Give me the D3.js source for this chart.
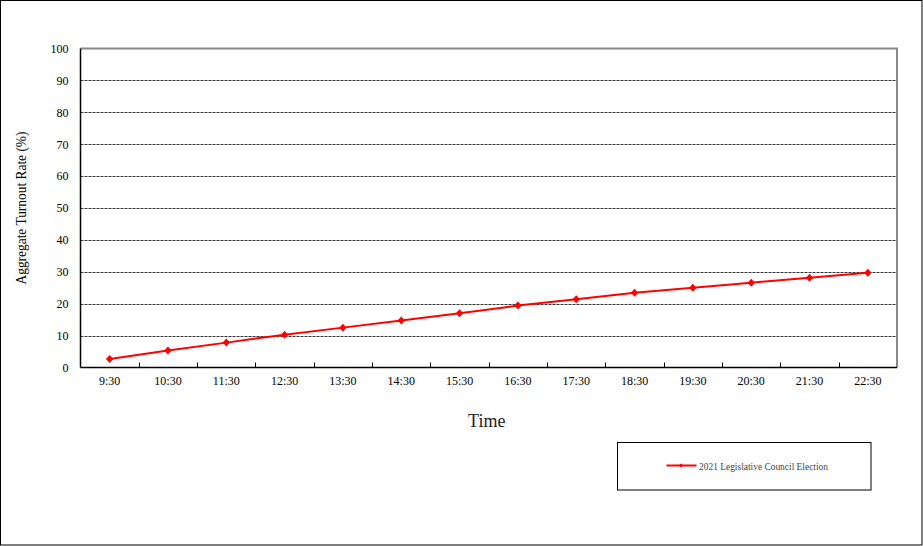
<!DOCTYPE html>
<html><head><meta charset="utf-8">
<script src="https://cdn.jsdelivr.net/npm/d3@7"></script>
<style>html,body{margin:0;padding:0;background:#fff;}svg{display:block;}</style>
</head><body>
<script>
const categories = ["9:30","10:30","11:30","12:30","13:30","14:30","15:30","16:30","17:30","18:30","19:30","20:30","21:30","22:30"];
const values = [2.7, 5.3, 7.8, 10.3, 12.5, 14.7, 17.0, 19.4, 21.4, 23.4, 25.0, 26.6, 28.1, 29.7];
const yTicks = [0,10,20,30,40,50,60,70,80,90,100];
const seriesName = "2021 Legislative Council Election";
const xTitle = "Time";
const yTitle = "Aggregate Turnout Rate (%)";

const W = 923, H = 546;
const font = "'Liberation Serif','Times New Roman',serif";
const svg = d3.select("body").append("svg").attr("width", W).attr("height", H);
svg.append("rect").attr("x",0.5).attr("y",0.5).attr("width",W-1.5).attr("height",H-1.5)
  .attr("fill","#fff").attr("stroke","#000").attr("stroke-width",1);

const L = 80.5, R = 897, T = 48.5, B = 367.5;
const x = d3.scaleBand().domain(categories).range([L, R]);
const y = d3.scaleLinear().domain([0,100]).range([B, T]);

// gridlines
svg.append("g").selectAll("line").data(yTicks.filter(d=>d>0 && d<100)).join("line")
  .attr("x1", L).attr("x2", R).attr("y1", d=>Math.round(y(d))+0.5).attr("y2", d=>Math.round(y(d))+0.5)
  .attr("stroke","#333").attr("stroke-width",1).attr("stroke-dasharray","3,1");

// plot frame top/right gray
svg.append("path").attr("d",`M${L},${T}H${R}V${B}`).attr("fill","none").attr("stroke","#888").attr("stroke-width",2);

// x axis
const xAxis = svg.append("g").attr("transform",`translate(0,${B})`)
  .call(d3.axisBottom(x).tickSize(0).tickPadding(9));
xAxis.select(".domain").remove();
xAxis.selectAll("text").attr("font-family",font).attr("font-size",12).attr("fill","#000");
// x tick marks at band boundaries (inside)
svg.append("g").selectAll("line").data(categories.slice(1)).join("line")
  .attr("x1", d=>Math.round(x(d))+0.5).attr("x2", d=>Math.round(x(d))+0.5)
  .attr("y1", B).attr("y2", B-5).attr("stroke","#000").attr("stroke-width",1);
svg.append("line").attr("x1",L).attr("x2",R).attr("y1",B).attr("y2",B).attr("stroke","#000").attr("stroke-width",1.5);

// y axis
const yAxis = svg.append("g").attr("transform",`translate(${L},0)`)
  .call(d3.axisLeft(y).tickValues(yTicks).tickSize(0).tickPadding(12));
yAxis.select(".domain").remove();
yAxis.selectAll("text").attr("font-family",font).attr("font-size",12).attr("fill","#000");
svg.append("line").attr("x1",L).attr("x2",L).attr("y1",T).attr("y2",B).attr("stroke","#000").attr("stroke-width",1.5);

// line
const cx = d => x(d) + x.bandwidth()/2;
svg.append("path").datum(values)
  .attr("d", d3.line().x((d,i)=>cx(categories[i])).y(d=>y(d)))
  .attr("fill","none").attr("stroke","#ff0000").attr("stroke-width",2);
svg.append("g").selectAll("path").data(values).join("path")
  .attr("transform",(d,i)=>`translate(${cx(categories[i])},${y(d)})`)
  .attr("d","M0,-4L3.7,0L0,4L-3.7,0Z").attr("fill","#ff0000");

// titles
svg.append("text").attr("x", (L+R)/2 - 2).attr("y", 427).attr("text-anchor","middle")
  .attr("font-family",font).attr("font-size",18).attr("fill","#222").text(xTitle);
svg.append("text").attr("transform",`translate(26,${(T+B)/2}) rotate(-90)`).attr("text-anchor","middle")
  .attr("font-family",font).attr("font-size",14).attr("fill","#000")
  .attr("textLength",153).attr("lengthAdjust","spacingAndGlyphs").text(yTitle);

// legend
svg.append("rect").attr("x",617.5).attr("y",442.5).attr("width",253.5).attr("height",47.5)
  .attr("fill","#fff").attr("stroke","#000").attr("stroke-width",1);
svg.append("line").attr("x1",666.5).attr("x2",696.5).attr("y1",465.5).attr("y2",465.5).attr("stroke","#ff0000").attr("stroke-width",2);
svg.append("path").attr("transform","translate(681,465.5)").attr("d","M0,-2L2,0L0,2L-2,0Z").attr("fill","#ff0000");
svg.append("text").attr("x",699).attr("y",469.5).attr("font-family",font).attr("font-size",10.5).attr("fill","#444")
  .attr("textLength",129).attr("lengthAdjust","spacingAndGlyphs").text(seriesName);
</script>
</body></html>
